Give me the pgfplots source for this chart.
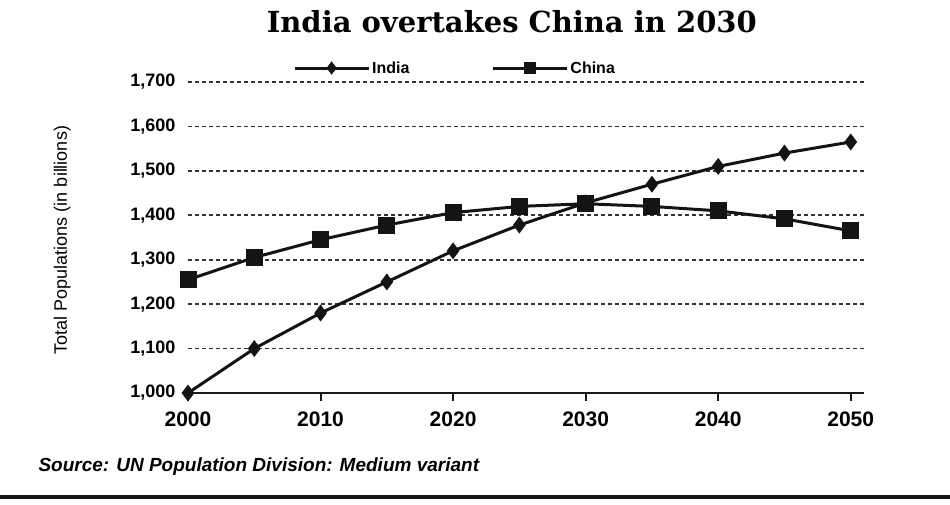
\documentclass[border=0pt]{standalone}
\usepackage{fontspec}
\setmainfont{Liberation Sans}
\newfontfamily\titlefont{DejaVu Serif}
\usepackage{pgfplots}
\pgfplotsset{compat=1.18}
\begin{document}
\begin{tikzpicture}
\useasboundingbox (0,0) rectangle (950pt,-504pt);
\begin{axis}[
  at={(188pt,-393pt)}, anchor=south west,
  scale only axis, width=676pt, height=311pt,
  xmin=2000, xmax=2051, ymin=1000, ymax=1700,
  axis x line*=bottom, axis y line*=left,
  y axis line style={draw=none},
  x axis line style={line width=2.6pt, -, black!90},
  xtick={2000,2010,...,2050},
  xticklabels={2000,2010,2020,2030,2040,2050},
  ytick={1000,1100,...,1700},
  tick align=outside, major tick length=8pt,
  xtick style={black!90, line width=2pt},
  ytick style={draw=none},
  /pgf/number format/assume math mode=true,
  /pgf/number format/1000 sep={,},
  xticklabel style={font=\bfseries\fontsize{21}{21}\selectfont, yshift=-7pt},
  yticklabel style={font=\bfseries\fontsize{18}{18}\selectfont, xshift=-1pt},
  ymajorgrids,
  grid style={black!80, dash pattern=on 4pt off 3pt, line width=1.6pt},
  title={India overtakes China in 2030},
  title style={font=\titlefont\bfseries\fontsize{29}{29}\selectfont, at={(axis description cs:0.479,1.174)}, anchor=center},
  ylabel={Total Populations (in billions)},
  ylabel style={font=\fontsize{18}{18}\selectfont, at={(axis description cs:-0.186,0.492)}, anchor=center},
  legend columns=2,
  legend style={draw=none, fill=none, at={(axis description cs:0.395,1.045)}, anchor=center,
    font=\bfseries\fontsize{16}{16}\selectfont,
    /tikz/every even column/.append style={column sep=80pt}},
  legend image code/.code={\draw[mark repeat=2,mark phase=2,#1,mark options={scale=0.7}] plot coordinates {(0pt,0pt) (37pt,0pt) (74pt,0pt)};},
]
\addplot[black!92, line width=3pt, mark=diamond*, mark size=6pt, mark options={solid}]
  coordinates {(2000,1000) (2005,1100) (2010,1180) (2015,1250) (2020,1320) (2025,1378) (2030,1428) (2035,1470) (2040,1510) (2045,1540) (2050,1565)};
\addlegendentry{India}
\addplot[black!92, line width=3pt, mark=square*, mark size=7pt, mark options={solid}]
  coordinates {(2000,1255) (2005,1305) (2010,1345) (2015,1378) (2020,1406) (2025,1420) (2030,1426) (2035,1420) (2040,1410) (2045,1392) (2050,1365)};
\addlegendentry{China}
\end{axis}
\node[anchor=west, font=\bfseries\itshape\fontsize{19}{19}\selectfont] at (35pt,-467pt) {Source: UN Population Division: Medium variant};
\draw[line width=4.5pt, black!92] (0pt,-497pt) -- (950pt,-497pt);
\end{tikzpicture}
\end{document}
